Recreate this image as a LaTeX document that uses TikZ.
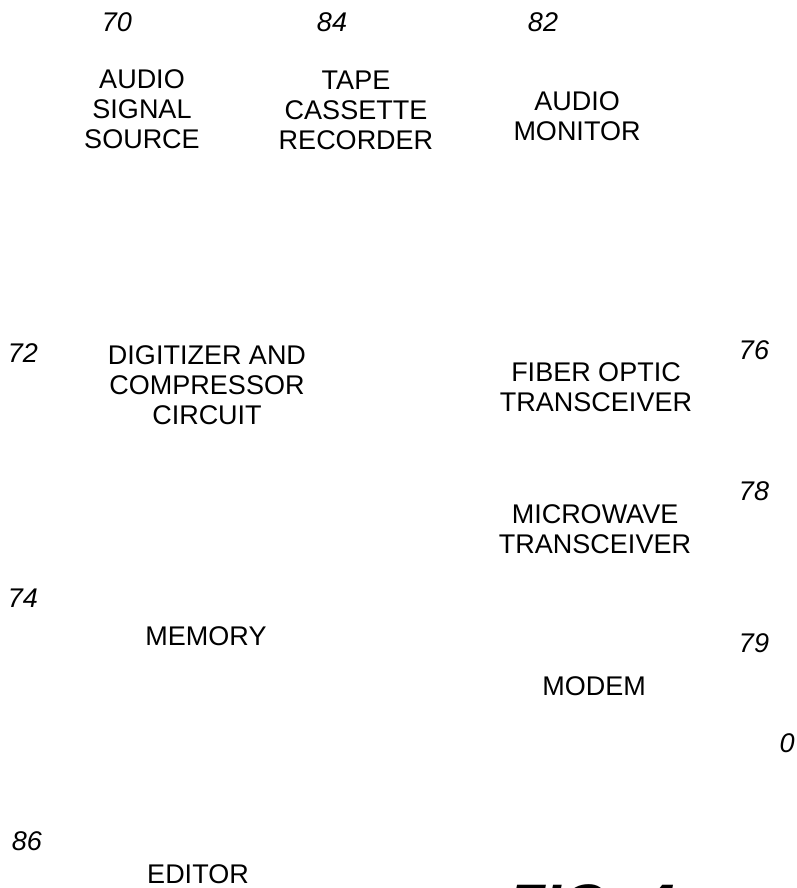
\documentclass[tikz,border=0pt]{standalone}
\usepackage{fontspec}
\setmainfont{Liberation Sans}
\usepackage{tikz}
\usetikzlibrary{positioning}

\begin{document}
\begin{tikzpicture}[x=1pt,y=-1pt,
 blk/.style={inner sep=0pt,align=center,font=\fontsize{27}{30}\selectfont},
 refnum/.style={inner sep=0pt,font=\fontsize{27}{30}\selectfont\itshape}]
\path[use as bounding box,clip] (0,0) rectangle (797,888);
% top row
\node[refnum] (n70) at (117,22) {70};
\node[refnum] (n84) at (332,22) {84};
\node[refnum] (n82) at (543,22) {82};
\node[blk] (src) at (142,109) {AUDIO\\SIGNAL\\SOURCE};
\node[blk] (tape) at (356,110) {TAPE\\CASSETTE\\RECORDER};
\node[blk] (mon) at (577,116) {AUDIO\\MONITOR};
% middle
\node[refnum] (n72) at (23,353) {72};
\node[blk] (dig) at (207,385) {DIGITIZER AND\\COMPRESSOR\\CIRCUIT};
\node[refnum] (n76) at (754,350) {76};
\node[blk] (fiber) at (596,387) {FIBER OPTIC\\TRANSCEIVER};
\node[refnum] (n78) at (754,491) {78};
\node[blk] (micro) at (595,529) {MICROWAVE\\TRANSCEIVER};
% lower
\node[refnum] (n74) at (23,598) {74};
\node[blk] (mem) at (206,636) {MEMORY};
\node[refnum] (n79) at (754,643) {79};
\node[blk] (modem) at (594,686) {MODEM};
\node[refnum] (n80) at (787,743) {0};
\node[refnum] (n86) at (27,841) {86};
\node[blk] (edit) at (198,874) {EDITOR};
\node[anchor=base west,inner sep=0pt,font=\fontsize{60}{60}\selectfont\bfseries\itshape] (fig) at (508,926) {FIG. 4};
\end{tikzpicture}
\end{document}
